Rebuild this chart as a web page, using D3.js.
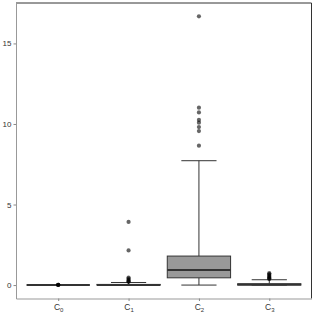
<!DOCTYPE html>
<html>
<head>
<meta charset="utf-8">
<script src="https://cdn.jsdelivr.net/npm/d3@7"></script>
<style>
  body { margin: 0; background: #fff; }
  text { font-family: "Liberation Sans", Arial, sans-serif; }
</style>
</head>
<body>
<div id="wrapper"></div>
<script>
const categories = ["0", "1", "2", "3"]
const q1 = [0, 0, 0.45, 0]
const medians = [0, 0.01, 0.93, 0.03]
const q3 = [0, 0.04, 1.8, 0.08]
const whiskerLow = [0, 0, 0, 0]
const whiskerHigh = [0, 0.16, 7.72, 0.33]
const outliers = [
  [0.01, 0.02, 0.015, 0.005],
  [3.92, 2.15, 0.47, 0.4, 0.33, 0.27, 0.22, 0.2],
  [16.68, 11.01, 10.72, 10.25, 10.08, 9.81, 9.56, 8.65],
  [0.74, 0.68, 0.62, 0.56, 0.5, 0.45, 0.4, 0.37]
]
const yTicks = [0, 5, 10, 15]

const dimensions = {
  width: 315,
  height: 315,
  margin: { top: 3, right: 3.5, bottom: 16.5, left: 16 }
}
dimensions.boundedWidth = dimensions.width - dimensions.margin.left - dimensions.margin.right
dimensions.boundedHeight = dimensions.height - dimensions.margin.top - dimensions.margin.bottom

const wrapper = d3.select("#wrapper")
  .append("svg")
  .attr("width", dimensions.width)
  .attr("height", dimensions.height)

const bounds = wrapper.append("g")
  .attr("transform", `translate(${dimensions.margin.left}, ${dimensions.margin.top})`)

const xScale = d3.scalePoint()
  .domain(categories)
  .range([0, dimensions.boundedWidth])
  .padding(0.6)

const yScale = d3.scaleLinear()
  .domain([-0.834, 17.51])
  .range([dimensions.boundedHeight, 0])

const step = xScale.step()
const boxW = step * 0.9
const capW = step * 0.5

const boxes = bounds.selectAll(".box")
  .data(categories)
  .join("g")
  .attr("class", "box")

// whiskers
boxes.append("line")
  .attr("x1", d => xScale(d)).attr("x2", d => xScale(d))
  .attr("y1", (d, i) => yScale(whiskerHigh[i]))
  .attr("y2", (d, i) => yScale(q3[i]))
  .attr("stroke", "#333")
boxes.append("line")
  .attr("x1", d => xScale(d)).attr("x2", d => xScale(d))
  .attr("y1", (d, i) => yScale(whiskerLow[i]))
  .attr("y2", (d, i) => yScale(q1[i]))
  .attr("stroke", "#333")
// whisker caps
boxes.append("line")
  .attr("x1", d => xScale(d) - capW / 2).attr("x2", d => xScale(d) + capW / 2)
  .attr("y1", (d, i) => yScale(whiskerHigh[i]))
  .attr("y2", (d, i) => yScale(whiskerHigh[i]))
  .attr("stroke", "#333")
boxes.append("line")
  .attr("x1", d => xScale(d) - capW / 2).attr("x2", d => xScale(d) + capW / 2)
  .attr("y1", (d, i) => yScale(whiskerLow[i]))
  .attr("y2", (d, i) => yScale(whiskerLow[i]))
  .attr("stroke", "#333")

// box
boxes.append("rect")
  .attr("x", d => xScale(d) - boxW / 2)
  .attr("width", boxW)
  .attr("y", (d, i) => yScale(q3[i]))
  .attr("height", (d, i) => yScale(q1[i]) - yScale(q3[i]))
  .attr("fill", "#999")
  .attr("stroke", "#333")
  .attr("stroke-width", 1)

// median
boxes.append("line")
  .attr("x1", d => xScale(d) - boxW / 2).attr("x2", d => xScale(d) + boxW / 2)
  .attr("y1", (d, i) => yScale(medians[i]))
  .attr("y2", (d, i) => yScale(medians[i]))
  .attr("stroke", "#333")
  .attr("stroke-width", 2)

// outliers
boxes.selectAll("circle")
  .data((d, i) => outliers[i].map(v => ({ cat: d, v })))
  .join("circle")
  .attr("cx", d => xScale(d.cat))
  .attr("cy", d => yScale(d.v))
  .attr("r", 2.1)
  .attr("fill", "#000")
  .attr("fill-opacity", 0.6)

// panel border: top/right dark, left/bottom axis grey
bounds.append("line")
  .attr("x1", 0).attr("x2", dimensions.boundedWidth)
  .attr("y1", 0).attr("y2", 0)
  .attr("stroke", "#333")
bounds.append("line")
  .attr("x1", dimensions.boundedWidth).attr("x2", dimensions.boundedWidth)
  .attr("y1", 0).attr("y2", dimensions.boundedHeight)
  .attr("stroke", "#333")

const yAxis = bounds.append("g")
  .call(d3.axisLeft(yScale).tickValues(yTicks).tickSize(2.5).tickSizeOuter(0).tickPadding(2))
yAxis.select(".domain").attr("stroke", "#999")
yAxis.selectAll(".tick line").attr("stroke", "#888")
yAxis.selectAll(".tick text")
  .attr("fill", "#333")
  .style("font-size", "8px")

const xAxis = bounds.append("g")
  .attr("transform", `translate(0, ${dimensions.boundedHeight})`)
  .call(d3.axisBottom(xScale).tickSize(2.5).tickSizeOuter(0).tickPadding(2).tickFormat(""))
xAxis.select(".domain").attr("stroke", "#999")
xAxis.selectAll(".tick line").attr("stroke", "#888")

const xLabels = xAxis.selectAll(".tick").append("text")
  .attr("y", 11)
  .attr("fill", "#333")
  .attr("text-anchor", "middle")
  .style("font-size", "8.5px")
xLabels.append("tspan").text("C")
xLabels.append("tspan")
  .attr("dy", 2)
  .style("font-size", "6px")
  .text(d => d)
</script>
</body>
</html>
